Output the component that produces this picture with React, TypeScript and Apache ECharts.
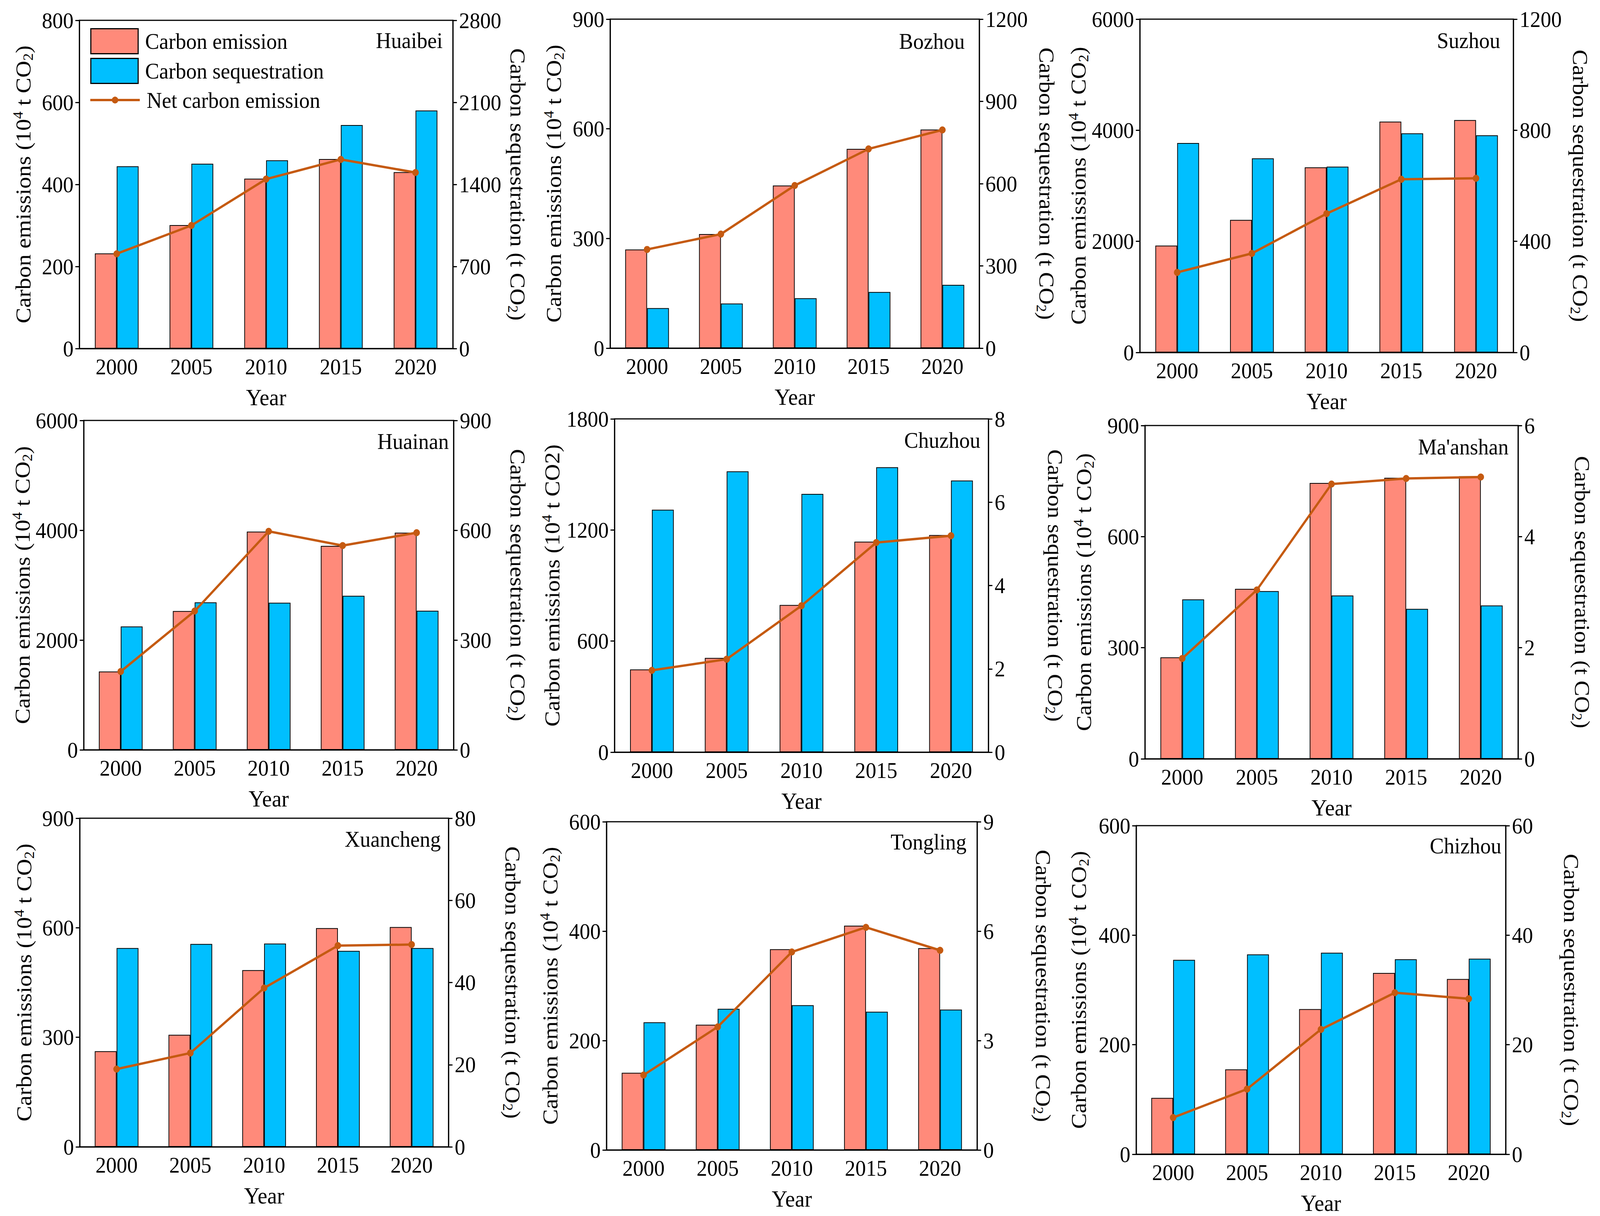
import React, { useEffect, useRef } from 'react';
import * as echarts from 'echarts';

// ---------------- data ----------------
const years = ['2000', '2005', '2010', '2015', '2020'];
const cities = ['Huaibei', 'Bozhou', 'Suzhou', 'Huainan', 'Chuzhou', "Ma'anshan", 'Xuancheng', 'Tongling', 'Chizhou'];

const huaibeiEmission = [232, 301, 414, 462, 430];
const huaibeiSequestration = [1555, 1577, 1606, 1907, 2031];
const huaibeiNet = [231, 300, 413, 461, 429];

const bozhouEmission = [270, 312, 445, 545, 598];
const bozhouSequestration = [146, 163, 182, 205, 231];
const bozhouNet = [270, 312, 445, 545, 597];

const suzhouEmission = [1923, 2387, 3332, 4155, 4183];
const suzhouSequestration = [754, 699, 669, 789, 782];
const suzhouNet = [1441, 1783, 2499, 3117, 3135];

const huainanEmission = [1427, 2528, 3975, 3716, 3955];
const huainanSequestration = [337, 403, 402, 421, 380];
const huainanNet = [1427, 2528, 3980, 3721, 3955];

const chuzhouEmission = [447, 509, 795, 1137, 1173];
const chuzhouSequestration = [5.82, 6.74, 6.2, 6.84, 6.52];
const chuzhouNet = [442, 502, 791, 1132, 1169];

const maanshanEmission = [274, 459, 745, 759, 763];
const maanshanSequestration = [2.87, 3.02, 2.94, 2.7, 2.76];
const maanshanNet = [271, 456, 742, 757, 761];

const xuanchengEmission = [262, 307, 484, 599, 602];
const xuanchengSequestration = [48.4, 49.4, 49.5, 47.7, 48.4];
const xuanchengNet = [213, 257, 435, 551, 554];

const tonglingEmission = [141, 229, 367, 410, 369];
const tonglingSequestration = [3.5, 3.87, 3.97, 3.79, 3.85];
const tonglingNet = [137, 225, 362, 407, 365];

const chizhouEmission = [103, 155, 265, 331, 320];
const chizhouSequestration = [35.5, 36.5, 36.8, 35.6, 35.7];
const chizhouNet = [67, 119, 228, 295, 284];

const emissionSets = [huaibeiEmission, bozhouEmission, suzhouEmission, huainanEmission, chuzhouEmission, maanshanEmission, xuanchengEmission, tonglingEmission, chizhouEmission];
const sequestrationSets = [huaibeiSequestration, bozhouSequestration, suzhouSequestration, huainanSequestration, chuzhouSequestration, maanshanSequestration, xuanchengSequestration, tonglingSequestration, chizhouSequestration];
const netSets = [huaibeiNet, bozhouNet, suzhouNet, huainanNet, chuzhouNet, maanshanNet, xuanchengNet, tonglingNet, chizhouNet];

// axis ticks
const leftMax = [800, 900, 6000, 6000, 1800, 900, 900, 600, 600];
const leftInterval = [200, 300, 2000, 2000, 600, 300, 300, 200, 200];
const rightMax = [2800, 1200, 1200, 900, 8, 6, 80, 9, 60];
const rightInterval = [700, 300, 400, 300, 2, 2, 20, 3, 20];

// ---------------- layout (pixels, in the 4395x3112 design space) ----------------
const W = 4395;
const H = 3112;
const layout = [
  { x: 218, y: 52, w: 1026, h: 840, lg: 122, rg: 146, cx: 28, cy: 51 },
  { x: 1676, y: 49, w: 1014, h: 842, lg: 122, rg: 152, cx: 40, cy: 56 },
  { x: 3131, y: 49, w: 1026, h: 853, lg: 130, rg: 151, cx: 36, cy: 54 },
  { x: 230, y: 1076, w: 1016, h: 843, lg: 131, rg: 144, cx: 13, cy: 53 },
  { x: 1688, y: 1072, w: 1027, h: 853, lg: 139, rg: 151, cx: 22, cy: 54 },
  { x: 3145, y: 1089, w: 1025, h: 853, lg: 135, rg: 143, cx: 26, cy: 54 },
  { x: 219, y: 2094, w: 1013, h: 841, lg: 120, rg: 144, cx: 21, cy: 53 },
  { x: 1666, y: 2103, w: 1018, h: 840, lg: 122, rg: 149, cx: 29, cy: 51 },
  { x: 3121, y: 2113, w: 1015, h: 841, lg: 125, rg: 148, cx: 12, cy: 51 },
];

const FONT = 'Liberation Serif';
const FS = 58;
const EMIS_COLOR = '#FF8A7A';
const SEQ_COLOR = '#00BFFF';
const NET_COLOR = '#C55A11';

const richName = {
  n: { fontFamily: FONT, fontSize: 60, color: '#000', lineHeight: 66 },
  sup: { fontFamily: FONT, fontSize: 38, color: '#000', lineHeight: 66, verticalAlign: 'top' },
  sub: { fontFamily: FONT, fontSize: 38, color: '#000', lineHeight: 40, verticalAlign: 'bottom' },
};

const plainLabel = (v: number) => String(v);

function buildOption() {
  const grid: any[] = [];
  const xAxis: any[] = [];
  const yAxis: any[] = [];
  const series: any[] = [];
  const graphic: any[] = [];

  layout.forEach((l, i) => {
    grid.push({
      left: l.x, top: l.y, width: l.w, height: l.h,
      show: true, borderColor: '#000', borderWidth: 3, backgroundColor: 'transparent',
    });
    xAxis.push({
      type: 'category', gridIndex: i, data: years,
      name: 'Year', nameLocation: 'middle', nameGap: 95,
      nameTextStyle: { fontFamily: FONT, fontSize: 60, color: '#000' },
      axisLine: { lineStyle: { color: '#000', width: 3 } },
      axisTick: { alignWithLabel: true, length: 11, lineStyle: { color: '#000', width: 3 } },
      axisLabel: { fontFamily: FONT, fontSize: FS, color: '#000', margin: 17 },
    });
    const leftName = i === 4
      ? '{n|Carbon emissions (10}{sup|4}{n| t CO2)}'
      : '{n|Carbon emissions (10}{sup|4}{n| t CO}{sub|2}{n|)}';
    yAxis.push({
      type: 'value', gridIndex: i, position: 'left', min: 0, max: leftMax[i], interval: leftInterval[i],
      name: leftName, nameLocation: 'middle', nameGap: l.lg, nameRotate: 90,
      nameTextStyle: { fontFamily: FONT, fontSize: 60, color: '#000', rich: richName },
      axisLine: { show: true, lineStyle: { color: '#000', width: 3 } },
      axisTick: { show: true, length: 11, lineStyle: { color: '#000', width: 3 } },
      axisLabel: { fontFamily: FONT, fontSize: FS, color: '#000', margin: 16, formatter: plainLabel },
      splitLine: { show: false },
    });
    yAxis.push({
      type: 'value', gridIndex: i, position: 'right', min: 0, max: rightMax[i], interval: rightInterval[i],
      name: '{n|Carbon sequestration (t CO}{sub|2}{n|)}', nameLocation: 'middle', nameGap: l.rg, nameRotate: -90,
      nameTextStyle: { fontFamily: FONT, fontSize: 60, color: '#000', rich: richName },
      axisLine: { show: true, lineStyle: { color: '#000', width: 3 } },
      axisTick: { show: true, length: 11, lineStyle: { color: '#000', width: 3 } },
      axisLabel: { fontFamily: FONT, fontSize: FS, color: '#000', margin: 17, formatter: plainLabel },
      splitLine: { show: false },
    });
    series.push({
      name: 'Carbon emission', type: 'bar', xAxisIndex: i, yAxisIndex: 2 * i,
      data: emissionSets[i], barWidth: 60, barGap: '0%',
      itemStyle: { color: EMIS_COLOR, borderColor: '#000', borderWidth: 2 },
      z: 2,
    });
    series.push({
      name: 'Carbon sequestration', type: 'bar', xAxisIndex: i, yAxisIndex: 2 * i + 1,
      data: sequestrationSets[i], barWidth: 60, barGap: '0%',
      itemStyle: { color: SEQ_COLOR, borderColor: '#000', borderWidth: 2 },
      z: 2,
    });
    series.push({
      name: 'Net carbon emission', type: 'line', xAxisIndex: i, yAxisIndex: 2 * i,
      data: netSets[i], symbol: 'circle', symbolSize: 18,
      lineStyle: { color: NET_COLOR, width: 6 },
      itemStyle: { color: NET_COLOR },
      z: 5,
    });
    graphic.push({
      type: 'text', x: l.x + l.w - l.cx, y: l.y + l.cy,
      style: { text: cities[i], fontFamily: FONT, fontSize: FS, fill: '#000', align: 'right', verticalAlign: 'middle' },
    });
  });

  return {
    animation: false,
    backgroundColor: '#fff',
    grid, xAxis, yAxis, series, graphic,
    legend: [
      {
        data: ['Carbon emission', 'Carbon sequestration'],
        orient: 'vertical', left: 243, top: 67,
        itemWidth: 130, itemHeight: 64, itemGap: 9, icon: 'rect',
        itemStyle: { borderColor: '#000', borderWidth: 3 },
        textStyle: { fontFamily: FONT, fontSize: FS, color: '#000', padding: [0, 0, 0, 14] },
      },
      {
        data: ['Net carbon emission'],
        orient: 'vertical', left: 240, top: 222,
        itemWidth: 136, itemHeight: 22,
        lineStyle: { color: NET_COLOR, width: 6 },
        itemStyle: { color: NET_COLOR },
        textStyle: { fontFamily: FONT, fontSize: FS, color: '#000', padding: [0, 0, 0, 14] },
      },
    ],
  };
}

export default function App() {
  const ref = useRef<HTMLDivElement>(null);
  // The viewport may be narrower than the design size; fit the design into it.
  const vw = typeof window !== 'undefined' ? window.innerWidth : W;
  const vh = typeof window !== 'undefined' ? window.innerHeight : H;
  const kx = vw / W;
  const ky = vh / H;
  useEffect(() => {
    document.documentElement.style.overflow = 'hidden';
    document.body.style.margin = '0';
    document.body.style.overflow = 'hidden';
    if (!ref.current) return;
    const chart = echarts.init(ref.current, null, { renderer: 'svg' });
    chart.setOption(buildOption() as any);
    return () => chart.dispose();
  }, []);
  return (
    <div style={{ width: vw, height: vh, overflow: 'hidden', position: 'relative', background: '#fff' }}>
      <div
        ref={ref}
        style={{ width: W, height: H, background: '#fff', transform: `scale(${kx}, ${ky})`, transformOrigin: '0 0' }}
      />
    </div>
  );
}
